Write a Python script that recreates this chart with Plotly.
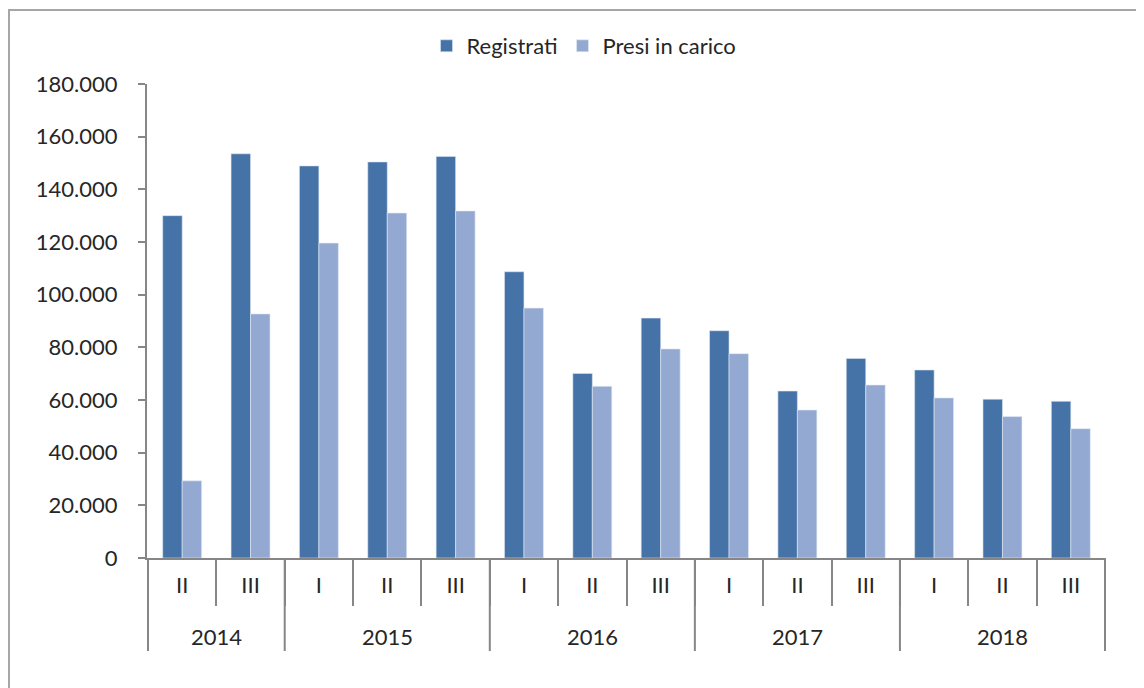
import plotly.graph_objects as go

W, H = 1144, 688

anni = ["2014", "2014", "2015", "2015", "2015", "2016", "2016", "2016",
        "2017", "2017", "2017", "2018", "2018", "2018"]
trimestri = ["II", "III", "I", "II", "III", "I", "II", "III",
             "I", "II", "III", "I", "II", "III"]

registrati = [130000, 153500, 148900, 150400, 152500, 108700, 70100, 91100,
              86300, 63400, 75800, 71400, 60300, 59500]
presi_in_carico = [29300, 92700, 119600, 131000, 131800, 94900, 65200, 79400,
                   77600, 56200, 65700, 60800, 53700, 49100]

FONT = "Lato"
GRIGIO = "#868686"
TESTO = "#262626"


# the page has an 8px body margin, so screen pixels are shifted
def px_x(x):
    return (x - 8) / W


def px_y(y):
    return 1 - (y - 8) / H


categorie = [f"{a} {t}" for a, t in zip(anni, trimestri)]

fig = go.Figure()
fig.add_trace(go.Bar(
    x=categorie, y=registrati, name="Registrati",
    marker=dict(color="#4572A7", line=dict(color="#DCE6F2", width=0.6)),
))
fig.add_trace(go.Bar(
    x=categorie, y=presi_in_carico, name="Presi in carico",
    marker=dict(color="#94A9D1", line=dict(color="#E4EBF5", width=0.6)),
))

# year labels and group dividers under the quarter labels
annotazioni = []
divisori = []
inizio = 0
for i in range(1, len(anni) + 1):
    if i == len(anni) or anni[i] != anni[inizio]:
        annotazioni.append(dict(
            x=(inizio + i - 1) / 2, xref="x", y=px_y(636), yref="paper",
            text=anni[inizio], showarrow=False, yanchor="middle",
            font=dict(family=FONT, size=22, color=TESTO),
        ))
        divisori.append(inizio - 0.5)
        inizio = i
divisori.append(len(anni) - 0.5)

shapes = [dict(
    type="line", xref="x", yref="paper", x0=d, x1=d, y0=px_y(558), y1=px_y(651),
    line=dict(color=GRIGIO, width=2),
) for d in divisori]
shapes.append(dict(
    type="rect", xref="paper", yref="paper",
    x0=1 / W, x1=1.2, y0=-0.2, y1=px_y(10),
    line=dict(color="#A6A6A6", width=2), fillcolor="rgba(0,0,0,0)", layer="below",
))

fig.update_layout(
    template="none",
    width=W, height=H,
    margin=dict(l=0, r=0, t=0, b=0),
    paper_bgcolor="white", plot_bgcolor="white",
    separators=",.",
    barmode="group", bargap=0.43, bargroupgap=0,
    font=dict(family=FONT, size=22, color=TESTO),
    showlegend=True,
    legend=dict(
        orientation="h", x=px_x(584), xanchor="center", y=px_y(46), yanchor="middle",
        font=dict(size=22), itemwidth=30, bgcolor="rgba(0,0,0,0)",
    ),
    xaxis=dict(
        type="category",
        tickvals=categorie, ticktext=trimestri,
        domain=[px_x(147), px_x(1106)],
        showline=True, linecolor=GRIGIO, linewidth=2,
        ticks="outside", tickson="boundaries", ticklen=46, tickcolor=GRIGIO, tickwidth=2,
        ticklabelstandoff=7,
        showgrid=False, zeroline=False,
        tickfont=dict(size=22),
    ),
    yaxis=dict(
        domain=[px_y(558), px_y(84)],
        range=[0, 180000], dtick=20000, tickformat=",d",
        showline=True, linecolor=GRIGIO, linewidth=2,
        ticks="outside", ticklen=7, tickcolor=GRIGIO, tickwidth=2,
        ticklabelstandoff=16,
        showgrid=False, zeroline=False,
        tickfont=dict(size=22),
    ),
    annotations=annotazioni,
    shapes=shapes,
)

fig.write_html("out.html")
